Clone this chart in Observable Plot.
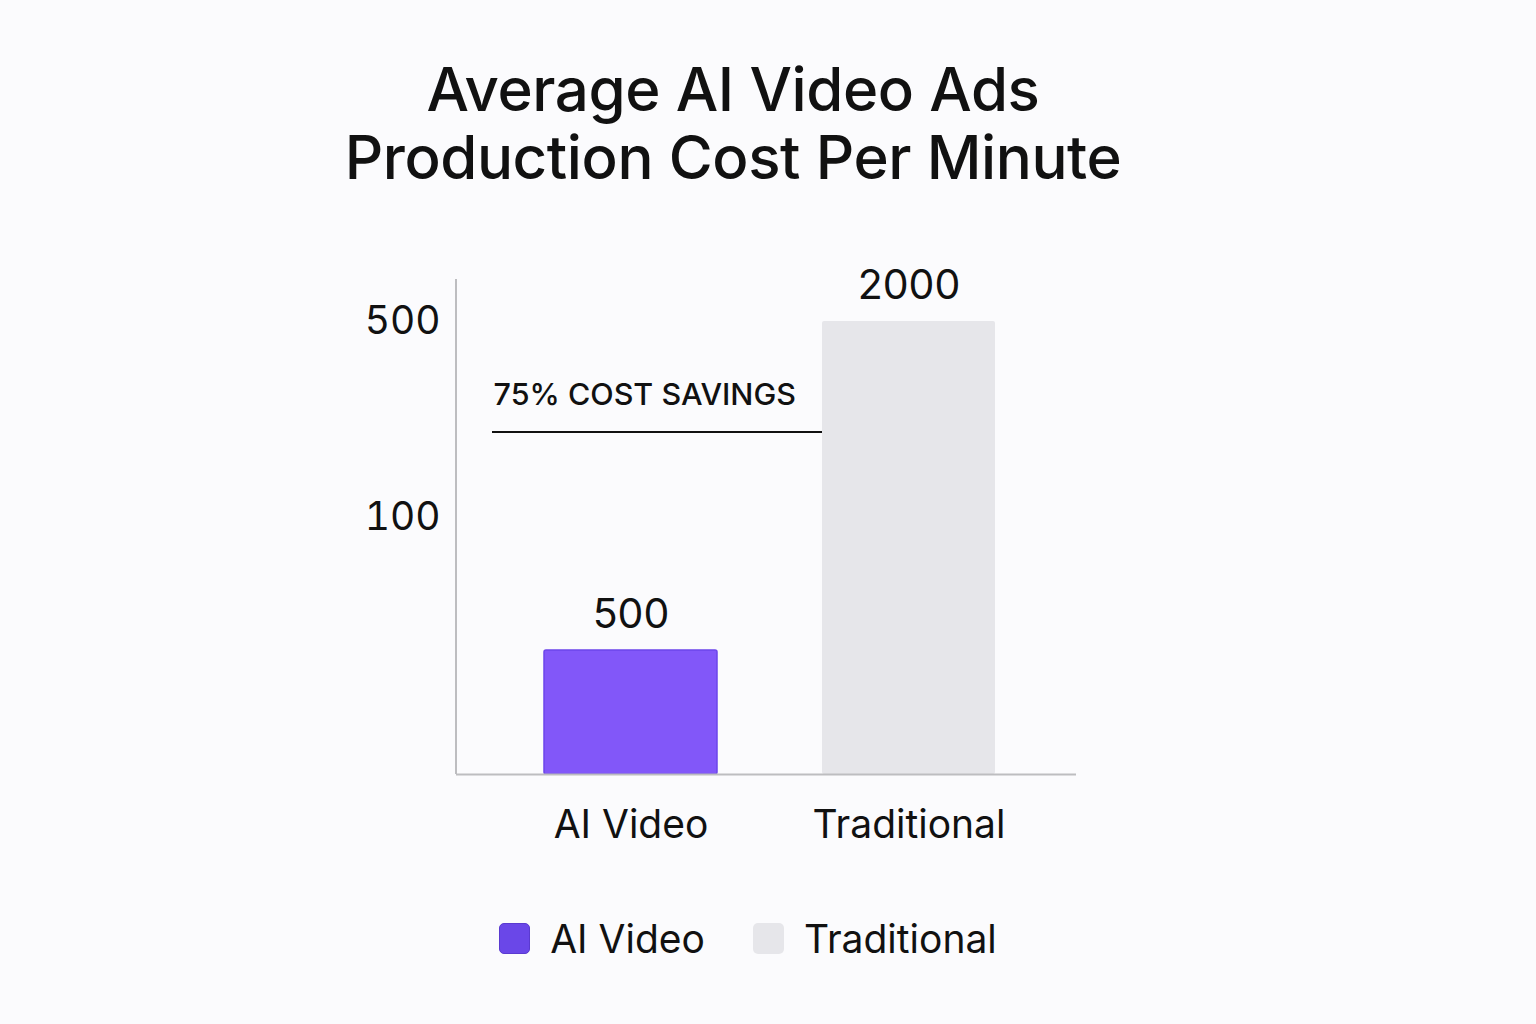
<!DOCTYPE html>
<html>
<head>
<meta charset="utf-8">
<script src="https://cdn.jsdelivr.net/npm/d3@7"></script>
<script src="https://cdn.jsdelivr.net/npm/@observablehq/plot@0.6"></script>
<style>
  html, body { margin: 0; padding: 0; background: #fbfbfd; }
  body { width: 1536px; height: 1024px; font-family: Inter, "Noto Sans", sans-serif; color: #111; }
  #title { box-sizing: border-box; height: 230px; padding-top: 55px; text-align: center; font-size: 60px; line-height: 68px; font-weight: 500; letter-spacing: -0.4px; width: 1466px; }
  #chart svg { display: block; }
  #legend { display: flex; justify-content: center; align-items: center; margin-top: 48px; height: 40px; width: 1496px; font-size: 39px; }
  .item { display: flex; align-items: center; margin: 0 24px; }
  .sw { width: 31px; height: 31px; border-radius: 5px; margin-right: 20px; box-sizing: border-box; }
</style>
</head>
<body>
<div id="title">Average AI Video Ads<br>Production Cost Per Minute</div>
<div id="chart"></div>
<div id="legend"></div>
<script>
const categories = ["AI Video", "Traditional"];
const costs = [500, 2000];
const barColors = ["#8257f9", "#e6e6ea"];
const legendColors = ["#6a47e8", "#e6e6ea"];
const yTickValues = [2000, 1090];
const yTickLabels = ["500", "100"];
const savingsLabel = "75% COST SAVINGS";
const savingsLabelLevel = 1652;
const savingsLineLevel = 1480;

const data = categories.map((c, i) => ({category: c, cost: costs[i]}));
const tickLabel = new Map(yTickValues.map((v, i) => [v, yTickLabels[i]]));

const plot = Plot.plot({
  width: 1536,
  height: 640,
  marginTop: 49,
  marginBottom: 96,
  marginLeft: 456,
  marginRight: 460,
  style: {background: "transparent", fontFamily: "Inter, 'Noto Sans', sans-serif", color: "#111"},
  x: {domain: categories, paddingInner: 0.378, paddingOuter: 0.304, align: 0.52, label: null},
  y: {type: "pow", exponent: 0.934, domain: [0, 2199], label: null},
  color: {domain: categories, range: barColors},
  marks: [
    Plot.barY(data, {x: "category", y: "cost", fill: "category", stroke: d => d.category === "AI Video" ? "#6c45ea" : "none", strokeWidth: 1.5, rx: 2}),
    Plot.text(data, {x: "category", y: "cost", text: d => String(d.cost), lineAnchor: "bottom", dy: -22, fontSize: 41, fill: "#111"}),
    Plot.axisY({ticks: yTickValues, tickFormat: d => tickLabel.get(d), tickSize: 0, tickPadding: 16, fontSize: 39, fill: "#111", label: null}),
    Plot.axisX({tickSize: 0, tickPadding: 36, lineAnchor: "top", fontSize: 39, fill: "#111", label: null}),
    Plot.ruleY([0], {stroke: "#bdbdc0", strokeWidth: 2}),
    (index, scales, values, dims) => {
      const g = d3.create("svg:g");
      g.append("line")
        .attr("x1", dims.marginLeft).attr("x2", dims.marginLeft)
        .attr("y1", dims.marginTop).attr("y2", dims.height - dims.marginBottom)
        .attr("stroke", "#bdbdc0").attr("stroke-width", 2);
      const yl = scales.y(savingsLineLevel);
      g.append("line")
        .attr("x1", dims.marginLeft + 36).attr("x2", scales.x("Traditional"))
        .attr("y1", yl).attr("y2", yl)
        .attr("stroke", "#111").attr("stroke-width", 2);
      return g.node();
    },
    Plot.text([savingsLabel], {y: savingsLabelLevel, frameAnchor: "left", textAnchor: "start", dx: 37, fontSize: 30.5, fontWeight: 500, fill: "#111", text: d => d})
  ]
});
document.getElementById("chart").appendChild(plot);

const legend = document.getElementById("legend");
categories.forEach((c, i) => {
  const item = document.createElement("div");
  item.className = "item";
  const sw = document.createElement("div");
  sw.className = "sw";
  sw.style.background = legendColors[i];
  if (i === 0) sw.style.border = "1px solid #5a3ad0";
  const t = document.createElement("span");
  t.textContent = c;
  item.appendChild(sw);
  item.appendChild(t);
  legend.appendChild(item);
});
</script>
</body>
</html>
